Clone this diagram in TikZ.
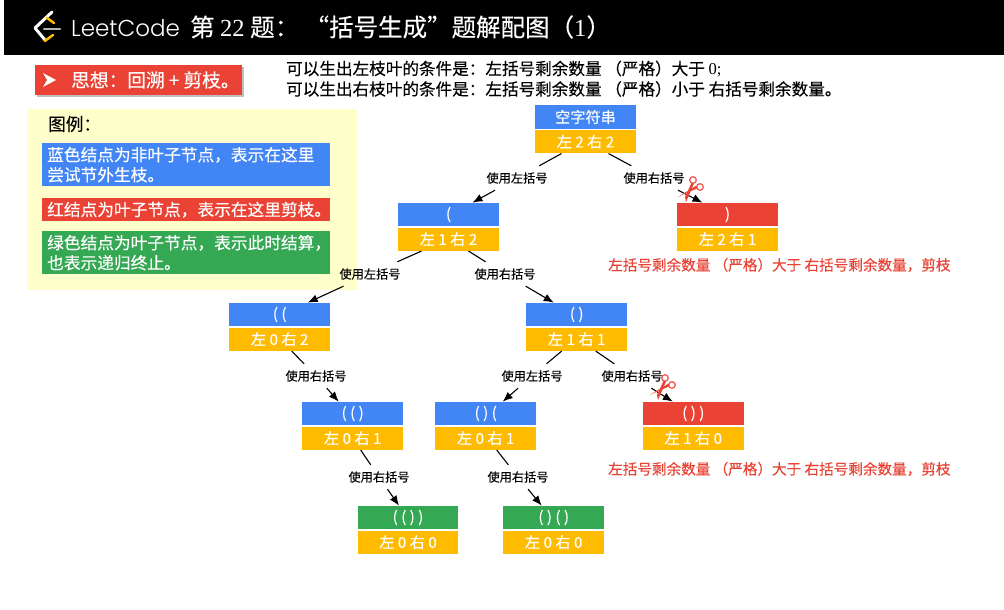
\documentclass[tikz,border=0pt]{standalone}
\usepackage{fontspec}
\setmainfont[FakeBold=0.2]{Noto Sans CJK SC}
\newfontfamily\numfont{Liberation Serif}
\newfontfamily\logofont{Poppins Light}
\usetikzlibrary{arrows.meta, positioning, shadows}
\definecolor{nodeblue}{HTML}{4285F4}
\definecolor{nodegold}{HTML}{FFBB00}
\definecolor{nodered}{HTML}{EA4335}
\definecolor{nodegreen}{HTML}{34A853}
\definecolor{legendbg}{HTML}{FFFFCC}
\newcommand{\fs}[1]{\fontsize{#1}{#1}\selectfont}
\begin{document}
\begin{tikzpicture}[
        x=1pt,
        y=-1pt,
        state/.style={rectangle, minimum width=100.7pt, minimum height=23.3pt, inner sep=0pt, text=white, font=\fs{15.2}},
        blue/.style={state, fill=nodeblue},
        red/.style={state, fill=nodered},
        green/.style={state, fill=nodegreen},
        count/.style={state, fill=nodegold, below=1pt of #1},
        edgelabel/.style={inner sep=0pt, minimum width=62pt, minimum height=24pt, font=\fs{12.2}},
        link/.style={line width=1.1pt},
        arrow/.style={line width=1.1pt, -{Latex[length=10pt,width=8pt]}},
        legendbox/.style={rectangle, anchor=north west, text width=278pt, inner xsep=5pt, inner ysep=0pt, text=white, align=left, font=\fontsize{16.7}{20}\selectfont},
        note/.style={anchor=west, inner sep=0pt, font=\fs{16.6}},
        warn/.style={anchor=west, inner sep=0pt, text=nodered, font=\fs{14.6}},
        scissorcut/.pic={
            \draw[nodered!85!white, line width=1.3pt] (0,0) circle (3.3pt) (7,7) circle (3.3pt);
            \fill[nodered] (-1.5,3) -- (1,3.5) -- (-7,22) -- (-8,17) -- cycle;
            \fill[nodered] (3.5,5.5) -- (4,8.5) -- (-10,14.5) -- (-15,17) -- cycle;
        }
    ]
    \useasboundingbox (0,0) rectangle (1004,610);

    % Title bar
    \fill[black] (4,0) rectangle (1004,55);
    \draw[white, line width=3pt, line cap=round, line join=round] (52,12) -- (35,28) -- (45,40);
    \draw[nodegold, line width=2.5pt, line cap=round] (47,18) -- (54,23) (45,41) -- (53,35);
    \draw[gray!60, line width=2.5pt, line cap=round] (44,29) -- (60,29);
    \node[anchor=west, inner sep=0pt, text=white, font=\logofont\fs{23}] (logo) at (71,28) {LeetCode};
    \node[anchor=west, inner sep=0pt, text=white, font=\fs{24.5}] (title) at (190,27) {第 {\numfont 22} 题： “括号生成”题解配图（{\numfont 1}）};

    % Idea
    \node[rectangle, anchor=north west, fill=nodered, minimum width=207pt, minimum height=30pt, drop shadow={shadow xshift=1.5pt, shadow yshift=-1.5pt}] (idea) at (35,65) {};
    \fill[white] (43,73) -- (56,80) -- (43,87) -- (47,80) -- cycle;
    \node[anchor=west, inner sep=0pt, text=white, font=\fs{18.7}] (ideatext) at (71,80) {思想：回溯 + 剪枝。};
    \node[note] (ruleleft) at (286,69) {可以生出左枝叶的条件是：左括号剩余数量 （严格）大于 {\numfont 0;}};
    \node[note] (ruleright) at (286,89) {可以生出右枝叶的条件是：左括号剩余数量 （严格）小于 右括号剩余数量。};

    % Legend
    \fill[legendbg] (27,109) rectangle (357,290);
    \node[anchor=west, inner sep=0pt, font=\fs{17.6}] (legend) at (48,124) {图例：};
    \node[legendbox, fill=nodeblue, minimum height=43pt] (legendblue) at (42,143) {蓝色结点为非叶子节点，表示在这里\\尝试节外生枝。};
    \node[legendbox, fill=nodered, minimum height=23pt] (legendred) at (42,198) {红结点为叶子节点，表示在这里剪枝。};
    \node[legendbox, fill=nodegreen, minimum height=43pt] (legendgreen) at (42,231) {绿色结点为叶子节点，表示此时结算，\\也表示递归终止。};

    % States
    \node[blue] (root) at (585.5,117) {空字符串};
    \node[count=root] (rootCnt) {左 2 右 2};
    \node[blue] (L) at (448.5,214.5) {(};
    \node[count=L] (LCnt) {左 1 右 2};
    \node[red] (R) at (727.5,214.5) {)};
    \node[count=R] (RCnt) {左 2 右 1};
    \node[blue] (LL) at (279.7,314.5) {( (};
    \node[count=LL] (LLCnt) {左 0 右 2};
    \node[blue] (LR) at (576.7,314.5) {( )};
    \node[count=LR] (LRCnt) {左 1 右 1};
    \node[blue] (LLR) at (352.7,413.5) {( ( )};
    \node[count=LLR] (LLRCnt) {左 0 右 1};
    \node[blue] (LRL) at (485.7,413.5) {( ) (};
    \node[count=LRL] (LRLCnt) {左 0 右 1};
    \node[red] (LRR) at (693.3,413.5) {( ) )};
    \node[count=LRR] (LRRCnt) {左 1 右 0};
    \node[green] (LLRR) at (408,517.5) {( ( ) )};
    \node[count=LLRR] (LLRRCnt) {左 0 右 0};
    \node[green] (LRLR) at (553.7,517.5) {( ) ( )};
    \node[count=LRLR] (LRLRCnt) {左 0 右 0};

    % Branch labels
    \node[edgelabel] (e1) at (517,178) {使用左括号};
    \node[edgelabel] (e2) at (654,178) {使用右括号};
    \node[edgelabel] (e3) at (370,274) {使用左括号};
    \node[edgelabel] (e4) at (505,274) {使用右括号};
    \node[edgelabel] (e5) at (316,376) {使用右括号};
    \node[edgelabel] (e6) at (532,376) {使用左括号};
    \node[edgelabel] (e7) at (632,376) {使用右括号};
    \node[edgelabel] (e8) at (379,477) {使用右括号};
    \node[edgelabel] (e9) at (518,477) {使用右括号};

    % Branches
    \draw[link] ([xshift=-24pt]rootCnt.south) -- (e1);
    \draw[arrow] (e1) -- ([xshift=24pt]L.north);
    \draw[link] ([xshift=23pt]rootCnt.south) -- (e2);
    \draw[arrow] (e2) -- ([xshift=-25pt]R.north);
    \draw[link] ([xshift=-27pt]LCnt.south) -- (e3);
    \draw[arrow] (e3) -- ([xshift=28pt]LL.north);
    \draw[link] ([xshift=20pt]LCnt.south) -- (e4);
    \draw[arrow] (e4) -- ([xshift=-23pt]LR.north);
    \draw[link] ([xshift=12pt]LLCnt.south) -- (e5);
    \draw[arrow] (e5) -- ([xshift=-14pt]LLR.north);
    \draw[link] ([xshift=-15pt]LRCnt.south) -- (e6);
    \draw[arrow] (e6) -- ([xshift=17pt]LRL.north);
    \draw[link] ([xshift=19pt]LRCnt.south) -- (e7);
    \draw[arrow] (e7) -- ([xshift=-20.5pt]LRR.north);
    \draw[link] ([xshift=8pt]LLRCnt.south) -- (e8);
    \draw[arrow] (e8) -- ([xshift=-9pt]LLRR.north);
    \draw[link] ([xshift=11pt]LRLCnt.south) -- (e9);
    \draw[arrow] (e9) -- ([xshift=-12pt]LRLR.north);

    % Pruned branches
    \pic at (693,180) {scissorcut};
    \pic at (665,378) {scissorcut};
    \node[warn] (warnR) at (608,265) {左括号剩余数量 （严格）大于 右括号剩余数量，剪枝};
    \node[warn] (warnLRR) at (608,469) {左括号剩余数量 （严格）大于 右括号剩余数量，剪枝};

\end{tikzpicture}
\end{document}
